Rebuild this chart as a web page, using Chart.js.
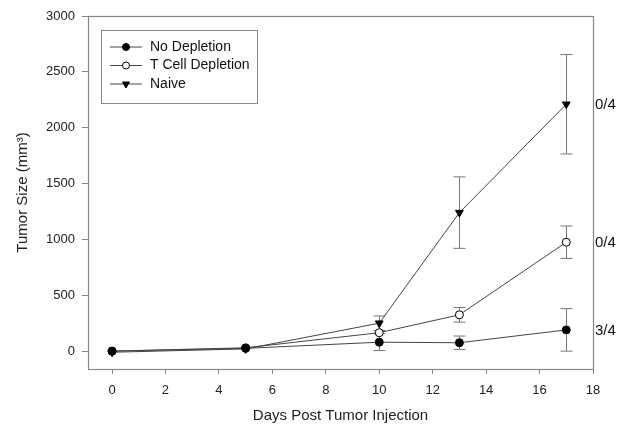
<!DOCTYPE html>
<html>
<head>
<meta charset="utf-8">
<script src="https://cdn.jsdelivr.net/npm/chart.js@4"></script>
<style>
  html, body { margin: 0; padding: 0; background: #fff; }
  #wrap { width: 619px; height: 429px; }
</style>
</head>
<body>
<div id="wrap"><canvas id="tumorChart" width="619" height="429"></canvas></div>
<script>
// --- data ---
const days = [0, 5, 10, 13, 17];
const noDepletion = [0, 25, 80, 75, 190];
const noDepletionErr = [0, 0, 75, 60, 190];
const tCellDepletion = [0, 30, 165, 325, 975];
const tCellDepletionErr = [0, 0, 0, 65, 145];
const naive = [-10, 20, 250, 1240, 2210];
const naiveErr = [0, 0, 65, 320, 445];
const survival = ['3/4', '0/4', '0/4'];
const xTicks = [0, 2, 4, 6, 8, 10, 12, 14, 16, 18];
const yTicks = [0, 500, 1000, 1500, 2000, 2500, 3000];

const FONT = '"Liberation Sans", Arial, sans-serif';
const LINE = '#444';
const AXIS = '#888';

function points(ys) {
    return days.map((d, i) => ({ x: d, y: ys[i] }));
}

const seriesList = [
    { label: 'No Depletion', data: noDepletion, err: noDepletionErr, style: 'circle', fill: '#000', rot: 0, radius: 4 },
    { label: 'T Cell Depletion', data: tCellDepletion, err: tCellDepletionErr, style: 'circle', fill: '#fff', rot: 0, radius: 4 },
    { label: 'Naive', data: naive, err: naiveErr, style: 'triangle', fill: '#000', rot: 180, radius: 4.5 }
];

// error bars, frame, inner legend and survival labels
const extrasPlugin = {
    id: 'extras',
    beforeDatasetsDraw(chart) {
        const ctx = chart.ctx;
        const xs = chart.scales.x, ys = chart.scales.y;
        ctx.save();
        ctx.strokeStyle = '#777';
        ctx.lineWidth = 1;
        seriesList.forEach(s => {
            s.data.forEach((v, i) => {
                const e = s.err[i];
                if (!e) return;
                const px = Math.round(xs.getPixelForValue(days[i])) + 0.5;
                const top = ys.getPixelForValue(v + e);
                const bot = ys.getPixelForValue(Math.max(v - e, 0));
                ctx.beginPath();
                ctx.moveTo(px, top); ctx.lineTo(px, bot);
                ctx.moveTo(px - 6, top); ctx.lineTo(px + 6, top);
                ctx.moveTo(px - 6, bot); ctx.lineTo(px + 6, bot);
                ctx.stroke();
            });
        });
        ctx.restore();
    },
    afterDraw(chart) {
        const ctx = chart.ctx;
        const a = chart.chartArea;
        const ys = chart.scales.y;
        ctx.save();
        // frame
        ctx.strokeStyle = AXIS;
        ctx.lineWidth = 1.2;
        ctx.strokeRect(a.left + 0.5, a.top + 0.5, a.right - a.left, a.bottom - a.top);

        // legend box
        const lx = a.left + 13, ly = a.top + 14, lw = 156, lh = 73;
        ctx.strokeStyle = '#888';
        ctx.lineWidth = 1;
        ctx.strokeRect(lx + 0.5, ly + 0.5, lw, lh);
        ctx.font = '14px ' + FONT;
        ctx.textBaseline = 'middle';
        seriesList.forEach((s, i) => {
            const yy = ly + 17 + i * 18.5;
            ctx.strokeStyle = LINE;
            ctx.beginPath();
            ctx.moveTo(lx + 9, yy); ctx.lineTo(lx + 41, yy);
            ctx.stroke();
            ctx.fillStyle = s.fill;
            ctx.strokeStyle = '#000';
            Chart.helpers.drawPoint(ctx, { pointStyle: s.style, radius: s.radius - 0.5, rotation: s.rot, borderWidth: 1 }, lx + 25, yy);
            ctx.fillStyle = '#111';
            ctx.fillText(s.label, lx + 49, yy);
        });

        // survival fractions beside the last points
        ctx.font = '15px ' + FONT;
        ctx.fillStyle = '#111';
        ctx.textAlign = 'left';
        seriesList.forEach((s, i) => {
            const last = s.data[s.data.length - 1];
            ctx.fillText(survival[i], a.right + 2, ys.getPixelForValue(last) + 1);
        });
        ctx.restore();
    }
};

new Chart(document.getElementById('tumorChart'), {
    type: 'scatter',
    data: {
        datasets: seriesList.map(s => ({
            label: s.label,
            data: points(s.data),
            showLine: true,
            borderColor: LINE,
            borderWidth: 1,
            pointStyle: s.style,
            pointRotation: s.rot,
            pointRadius: s.radius,
            pointBackgroundColor: s.fill,
            pointBorderColor: '#000',
            pointBorderWidth: 1
        }))
    },
    options: {
        responsive: false,
        animation: false,
        layout: { padding: { left: 0, right: 26, top: 16, bottom: 0 } },
        plugins: {
            legend: { display: false },
            tooltip: { enabled: false }
        },
        scales: {
            x: {
                type: 'linear',
                min: -0.9,
                max: 18,
                afterBuildTicks: scale => { scale.ticks = xTicks.map(v => ({ value: v })); },
                afterFit: scale => { scale.height = 60; },
                grid: { drawOnChartArea: false, tickLength: 5, color: AXIS, tickColor: AXIS },
                border: { display: false },
                ticks: { color: '#222', font: { family: FONT, size: 13 }, padding: 9, maxRotation: 0 },
                title: { display: true, text: 'Days Post Tumor Injection', color: '#222', font: { family: FONT, size: 15 }, padding: { top: 0, bottom: 4 } }
            },
            y: {
                type: 'linear',
                min: -160,
                max: 3000,
                afterBuildTicks: scale => { scale.ticks = yTicks.map(v => ({ value: v })); },
                afterFit: scale => { scale.width = 88; },
                grid: { drawOnChartArea: false, tickLength: 6, color: AXIS, tickColor: AXIS },
                border: { display: false },
                ticks: { color: '#222', font: { family: FONT, size: 13 }, padding: 7, callback: v => String(v) },
                title: { display: true, text: 'Tumor Size (mm\u00B3)', color: '#222', font: { family: FONT, size: 15 }, padding: { top: 14, bottom: 0 } }
            }
        }
    },
    plugins: [extrasPlugin]
});
</script>
</body>
</html>
